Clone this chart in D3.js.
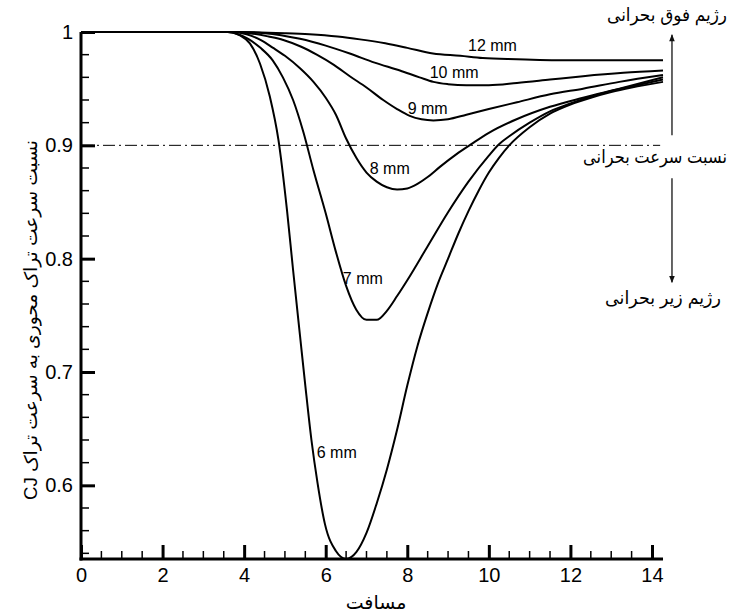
<!DOCTYPE html>
<html>
<head>
<meta charset="utf-8">
<script src="https://cdn.jsdelivr.net/npm/d3@7"></script>
<style>
  html, body { margin: 0; padding: 0; background: #fff; }
  svg { display: block; }
  text { font-family: "Liberation Sans", Arial, "DejaVu Sans", sans-serif; fill: #000; }
</style>
</head>
<body>
<svg id="chart" width="733" height="614"></svg>
<script>
// ---------- DATA ----------
const seriesNames = ["6 mm", "7 mm", "8 mm", "9 mm", "10 mm", "12 mm"];

const mm6 = [[0,1],[3.6,1],[3.9,0.997],[4.14,0.99],[4.39,0.972],[4.63,0.943],[4.84,0.905],[5.05,0.843],[5.2,0.79],[5.37,0.732],[5.5,0.688],[5.65,0.640],[5.8,0.602],[5.98,0.566],[6.25,0.542],[6.5,0.535],[6.75,0.541],[7.0,0.558],[7.25,0.584],[7.5,0.614],[7.75,0.649],[8.0,0.688],[8.25,0.723],[8.5,0.752],[8.75,0.778],[9.0,0.800],[9.25,0.822],[9.5,0.842],[9.75,0.860],[10.0,0.876],[10.25,0.889],[10.5,0.900],[11.0,0.916],[11.5,0.928],[12.0,0.936],[12.5,0.942],[13.0,0.947],[13.5,0.951],[14.27,0.956]];
const mm7 = [[0,1],[3.6,1],[3.85,0.998],[4.1,0.994],[4.4,0.986],[4.7,0.975],[4.95,0.96],[5.2,0.94],[5.45,0.912],[5.7,0.878],[6.0,0.840],[6.25,0.806],[6.5,0.776],[6.75,0.755],[7.0,0.746],[7.25,0.746],[7.5,0.754],[7.75,0.767],[8.0,0.781],[8.5,0.811],[9.0,0.841],[9.5,0.868],[10.0,0.891],[10.25,0.901],[10.5,0.908],[11.0,0.920],[11.5,0.930],[12.0,0.937],[12.5,0.943],[13.0,0.948],[13.5,0.952],[14.27,0.958]];
const mm8 = [[0,1],[3.7,1],[4.06,0.998],[4.4,0.993],[4.71,0.986],[5.0,0.979],[5.37,0.968],[5.7,0.956],[6.0,0.942],[6.25,0.927],[6.5,0.906],[6.75,0.889],[7.0,0.876],[7.25,0.868],[7.5,0.863],[7.75,0.861],[8.0,0.862],[8.25,0.866],[8.5,0.872],[8.8,0.881],[9.2,0.892],[9.57,0.901],[10.0,0.911],[10.68,0.923],[11.5,0.934],[12.31,0.942],[13.2,0.950],[14.27,0.960]];
const mm9 = [[0,1],[3.7,1],[4.14,0.999],[4.6,0.996],[4.96,0.993],[5.4,0.987],[5.78,0.980],[6.2,0.971],[6.59,0.961],[7.0,0.951],[7.41,0.940],[7.75,0.932],[8.06,0.926],[8.35,0.923],[8.64,0.922],[9.0,0.923],[9.45,0.927],[10.0,0.932],[10.69,0.938],[11.5,0.945],[12.31,0.950],[13.2,0.956],[14.27,0.962]];
const mm10 = [[0,1],[3.8,1],[4.5,0.999],[5.37,0.994],[6.0,0.988],[6.59,0.981],[7.2,0.973],[7.82,0.966],[8.3,0.960],[8.64,0.956],[9.0,0.954],[9.45,0.953],[10.0,0.953],[10.69,0.955],[11.5,0.958],[12.31,0.961],[13.3,0.964],[14.27,0.966]];
const mm12 = [[0,1],[3.9,1],[5.0,0.999],[5.6,0.998],[6.29,0.996],[6.84,0.9935],[7.46,0.990],[8.0,0.986],[8.63,0.981],[9.3,0.979],[9.85,0.977],[10.69,0.976],[12.0,0.975],[14.27,0.975]];
const seriesValues = [mm6, mm7, mm8, mm9, mm10, mm12];

// label anchors (left x, baseline y) in data units
const labelX = [5.78, 6.42, 7.08, 8.01, 8.55, 9.49];
const labelY = [0.624, 0.778, 0.875, 0.928, 0.959, 0.983];

const xTicks = [0, 2, 4, 6, 8, 10, 12, 14];
const yTicks = [0.6, 0.7, 0.8, 0.9, 1];
const xDomain = [0, 14.27];
const yDomain = [0.535, 1];
const criticalRatio = 0.9;

const xTitle = "مسافت";
const yTitle = "نسبت سرعت تراک محوری به سرعت تراک CJ";
const noteTexts = ["رژیم فوق بحرانی", "نسبت سرعت بحرانی", "رژیم زیر بحرانی"];

// ---------- CHART ----------
const svg = d3.select("#chart");
const x = d3.scaleLinear().domain(xDomain).range([81, 663]);
const y = d3.scaleLinear().domain(yDomain).range([559, 32]);

// critical dash-dot line
svg.append("line")
  .attr("x1", x(xDomain[0])).attr("x2", x(14.2))
  .attr("y1", y(criticalRatio)).attr("y2", y(criticalRatio))
  .attr("stroke", "#000").attr("stroke-width", 1)
  .attr("stroke-dasharray", "12,4,2,4");

// curves
const line = d3.line().x(d => x(d[0])).y(d => y(d[1])).curve(d3.curveMonotoneX);
svg.append("g").selectAll("path").data(seriesValues).join("path")
  .attr("d", line).attr("fill", "none").attr("stroke", "#000").attr("stroke-width", 2);

// curve labels
svg.append("g").selectAll("text").data(seriesNames).join("text")
  .attr("x", (d, i) => x(labelX[i])).attr("y", (d, i) => y(labelY[i]))
  .attr("font-size", 16).text(d => d);

// axes
const minorX = d3.range(0.5, 14.01, 0.5).filter(v => Math.abs(v % 2) > 1e-6);
const minorY = d3.range(0.54, 1.0, 0.02).filter(v => Math.abs(Math.round(v * 10) - v * 10) > 1e-6);

const gx = svg.append("g").attr("transform", `translate(0,${y(yDomain[0])})`);
gx.call(d3.axisBottom(x).tickValues(xTicks).tickSizeInner(-14).tickSizeOuter(0).tickPadding(9).tickFormat(d3.format("d")));
gx.select(".domain").remove();
gx.selectAll(".tick line").attr("stroke-width", 3);
gx.selectAll("text").attr("font-size", 20).attr("font-family", "Liberation Sans, Arial, sans-serif");
gx.selectAll(".minor").data(minorX).join("line").attr("class", "minor")
  .attr("x1", d => x(d)).attr("x2", d => x(d)).attr("y1", 0).attr("y2", -8)
  .attr("stroke", "#000").attr("stroke-width", 1.5);

const gy = svg.append("g").attr("transform", `translate(${x(0)},0)`);
gy.call(d3.axisLeft(y).tickValues(yTicks).tickSizeInner(-14).tickSizeOuter(0).tickPadding(8).tickFormat(d => d === 1 ? "1" : d3.format(".1f")(d)));
gy.select(".domain").remove();
gy.selectAll(".tick line").attr("stroke-width", 3);
gy.selectAll("text").attr("font-size", 20).attr("font-family", "Liberation Sans, Arial, sans-serif");
gy.selectAll(".minor").data(minorY).join("line").attr("class", "minor")
  .attr("x1", 0).attr("x2", 8).attr("y1", d => y(d)).attr("y2", d => y(d))
  .attr("stroke", "#000").attr("stroke-width", 1.5);

// axis lines
svg.append("line").attr("x1", x(0)).attr("x2", x(0)).attr("y1", y(1)).attr("y2", y(yDomain[0]) + 1.5)
  .attr("stroke", "#000").attr("stroke-width", 3);
svg.append("line").attr("x1", x(0) - 1.5).attr("x2", x(xDomain[1])).attr("y1", y(yDomain[0])).attr("y2", y(yDomain[0]))
  .attr("stroke", "#000").attr("stroke-width", 3);

// titles
svg.append("text").attr("x", 376).attr("y", 609).attr("text-anchor", "middle")
  .attr("font-size", 19).attr("font-family", "DejaVu Sans, sans-serif").attr("direction", "rtl").text(xTitle);
svg.append("text").attr("transform", "translate(31,320) rotate(-90)")
  .attr("text-anchor", "middle").attr("font-size", 18).attr("font-family", "DejaVu Sans, sans-serif")
  .attr("direction", "rtl").attr("dominant-baseline", "central")
  .attr("textLength", 360).attr("lengthAdjust", "spacingAndGlyphs").text(yTitle);

// right annotations
const ax = x(14.49);
const defs = svg.append("defs");
defs.append("marker").attr("id", "ah").attr("viewBox", "0 0 10 10").attr("refX", 9).attr("refY", 5)
  .attr("markerWidth", 12).attr("markerHeight", 7).attr("markerUnits", "userSpaceOnUse").attr("orient", "auto")
  .append("path").attr("d", "M0,1 L10,5 L0,9 Z").attr("fill", "#111");
svg.append("line").attr("x1", ax).attr("x2", ax).attr("y1", y(0.909)).attr("y2", y(0.9975))
  .attr("stroke", "#333").attr("stroke-width", 1.5).attr("marker-end", "url(#ah)");
svg.append("line").attr("x1", ax).attr("x2", ax).attr("y1", y(0.871)).attr("y2", y(0.7792))
  .attr("stroke", "#333").attr("stroke-width", 1.5).attr("marker-end", "url(#ah)");

const noteCx = [667, 655, 663];
const noteBase = [21, 163, 304];
const noteW = [120, 144, 116];
svg.append("g").selectAll("text").data(noteTexts).join("text")
  .attr("text-anchor", "middle").attr("font-size", 18).attr("font-family", "DejaVu Sans, sans-serif")
  .attr("direction", "rtl")
  .text(d => d)
  .each(function (d, i) {
    const w = this.getComputedTextLength() || noteW[i];
    const s = noteW[i] / w;
    d3.select(this).attr("transform", `translate(${noteCx[i]},${noteBase[i]}) scale(${s},1)`);
  });
</script>
</body>
</html>
